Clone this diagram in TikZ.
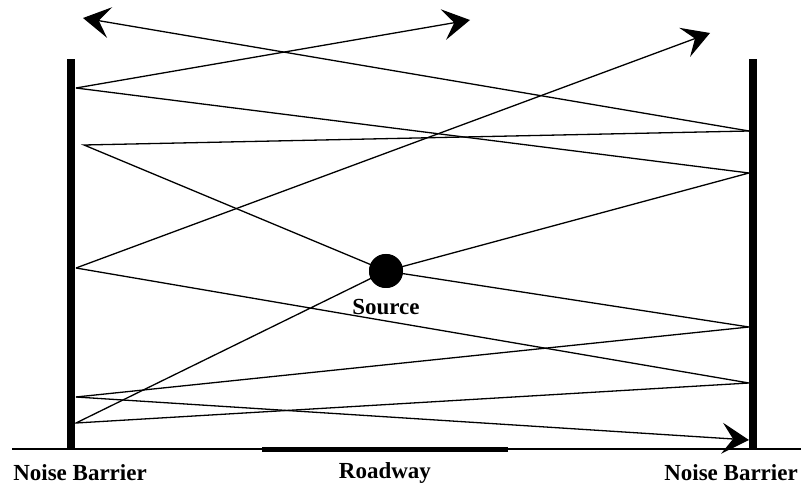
\documentclass[tikz,border=0pt]{standalone}
\usepackage{fontspec}
\setmainfont{Liberation Serif}
\usetikzlibrary{positioning, arrows.meta}
\tikzset{
	barrier/.style={line width=8.5pt},
	ground/.style={line width=1.4pt},
	roadway/.style={line width=5pt},
	ray/.style={line width=1.3pt},
	rayOut/.style={line width=1.3pt, -{Stealth[length=27pt, width=31pt, inset=11pt]}},
	source/.style={circle, fill=black, minimum size=34pt, inner sep=0pt},
	lbl/.style={font=\fontsize{23}{26}\selectfont\bfseries}
}

\begin{document}
\begin{tikzpicture}[x=1pt, y=-1pt]
\useasboundingbox (0,0) rectangle (801,489);
% barriers and ground
\coordinate (gl) at (12,449);
\coordinate (gr) at (801,449);
\coordinate (bl) at (71,449);
\coordinate (tl) at (71,59);
\coordinate (br) at (753,449);
\coordinate (tr) at (753,59);
\coordinate (rdl) at (262,449);
\coordinate (rdr) at (508,449);
\draw [ground] (gl) -- (gr);
\draw [roadway] (rdl) -- (rdr);
\draw [barrier] (bl) -- (tl);
\draw [barrier] (br) -- (tr);

\node [source] (src) at (386,271) {};

% reflection points
\coordinate (l1) at (84,145);
\coordinate (l2) at (76,88);
\coordinate (l3) at (76,397);
\coordinate (l4) at (76,423);
\coordinate (l5) at (76,268);
\coordinate (r1) at (749,131);
\coordinate (r2) at (749,173);
\coordinate (r3) at (749,327);
\coordinate (r4) at (749,383);
% arrow ends
\coordinate (a1) at (83,18);
\coordinate (a2) at (470,20);
\coordinate (a3) at (749,440);
\coordinate (a4) at (710,33);

\draw [ray] (src.center) -- (l1) -- (r1);
\draw [rayOut] (r1) -- (a1);
\draw [ray] (src.center) -- (r2) -- (l2);
\draw [rayOut] (l2) -- (a2);
\draw [ray] (src.center) -- (r3) -- (l3);
\draw [rayOut] (l3) -- (a3);
\draw [ray] (src.center) -- (l4) -- (r4) -- (l5);
\draw [rayOut] (l5) -- (a4);
\node [source] at (src) {};

\node [lbl, below=8pt of src.south] (srclbl) {Source};
\node [lbl] (nbl) at (80,473) {Noise Barrier};
\node [lbl] (road) at (385,473) {Roadway};
\node [lbl] (nbr) at (731,473) {Noise Barrier};
\end{tikzpicture}
\end{document}
